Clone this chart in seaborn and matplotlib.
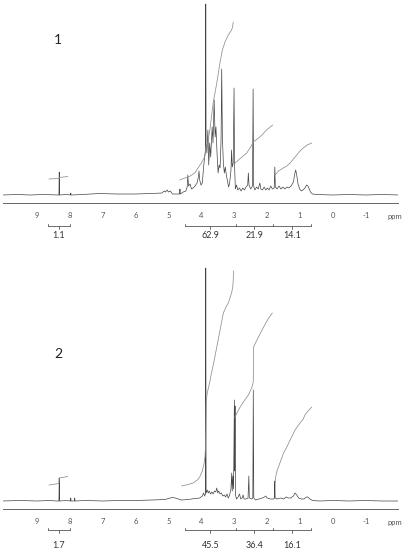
"""
1H NMR spectra of two samples, with integral curves and integration brackets
"""

import pandas as pd
import matplotlib
matplotlib.use('Agg')
import matplotlib.pyplot as plt
import seaborn as sns

# ---- spectrum 1: chemical shift (ppm) / intensity (arbitrary units)
spec1_ppm = [10.05, 9.6, 9.2, 8.8, 8.40, 8.33, 8.32, 8.31, 8.1, 7.98, 7.97, 7.96,
             7.6, 7.1, 6.6, 6.0, 5.5, 5.2, 5.13, 5.09, 5.04, 5.00, 4.94, 4.88,
             4.72, 4.66, 4.65, 4.64, 4.55, 4.47, 4.43, 4.41, 4.39, 4.34, 4.30,
             4.25, 4.19, 4.13, 4.09, 4.07, 4.05, 4.01, 3.97, 3.93, 3.90, 3.875,
             3.865, 3.855, 3.83, 3.80, 3.775, 3.745, 3.715, 3.67, 3.645, 3.61,
             3.58, 3.555, 3.52, 3.49, 3.46, 3.43, 3.40, 3.38, 3.36, 3.33, 3.30,
             3.27, 3.24, 3.21, 3.17, 3.14, 3.10, 3.08, 3.06, 3.03, 3.005, 2.99,
             2.965, 2.93, 2.89, 2.84, 2.79, 2.74, 2.69, 2.64, 2.59, 2.57, 2.55,
             2.50, 2.445, 2.425, 2.41, 2.37, 2.32, 2.27, 2.22, 2.19, 2.14, 2.09,
             2.04, 1.99, 1.94, 1.89, 1.84, 1.785, 1.765, 1.75, 1.70, 1.64, 1.58,
             1.52, 1.46, 1.40, 1.34, 1.27, 1.20, 1.16, 1.13, 1.10, 1.06, 1.01,
             0.96, 0.91, 0.85, 0.80, 0.76, 0.72, 0.68, 0.62, 0.5, 0.0, -0.5,
             -1.0, -1.5, -2.0]
spec1_int = [0, 0.5, 0, 0.5, 0, 0, 23, 0, 0.5, 0, 2, 0,
             0.5, 1.5, 1, 1, 1.5, 2, 4, 3, 5, 3, 4, 1,
             1, 1, 6, 1, 3, 4, 8, 20, 9, 11, 6,
             7, 9, 12, 18, 24, 15, 10, 12, 28, 38, 45,
             191, 50, 42, 65, 30, 52, 38, 68, 52, 95,
             58, 68, 40, 22, 30, 27, 55, 126, 58, 32, 22,
             28, 20, 15, 8, 12, 24, 45, 28, 32, 107, 30,
             6, 10, 5, 7, 4, 7, 5, 8, 10, 22, 10,
             6, 9, 106, 9, 5, 8, 6, 12, 6, 5, 8,
             5, 7, 5, 9, 6, 7, 28, 8, 6, 9, 6,
             8, 6, 8, 7, 9, 13, 21, 25, 20, 11, 6,
             4, 5, 7, 10, 9, 6, 3, 1, 0.5, 0, 0.5,
             0, 0.5, 0]

# ---- spectrum 2
spec2_ppm = [10.05, 9.5, 9.0, 8.6, 8.40, 8.33, 8.32, 8.31, 8.1, 7.98, 7.97, 7.96,
             7.86, 7.85, 7.84, 7.5, 7.0, 6.5, 6.0, 5.5, 5.1, 4.95, 4.85, 4.75,
             4.6, 4.4, 4.2, 4.05, 3.97, 3.93, 3.90, 3.875, 3.865, 3.855, 3.82,
             3.79, 3.76, 3.72, 3.68, 3.64, 3.60, 3.56, 3.53, 3.50, 3.47, 3.43,
             3.39, 3.35, 3.30, 3.26, 3.22, 3.18, 3.14, 3.10, 3.075, 3.06, 3.04,
             3.02, 2.995, 2.985, 2.975, 2.96, 2.93, 2.88, 2.84, 2.80, 2.76, 2.73,
             2.70, 2.64, 2.58, 2.555, 2.54, 2.48, 2.435, 2.42, 2.405, 2.35, 2.25,
             2.15, 2.08, 2.04, 2.00, 1.90, 1.80, 1.775, 1.765, 1.755, 1.70, 1.60,
             1.50, 1.42, 1.36, 1.28, 1.20, 1.15, 1.10, 1.04, 0.96, 0.88, 0.80,
             0.76, 0.70, 0.62, 0.4, 0.0, -0.5, -1.0, -1.5, -2.0]
spec2_int = [0, 0.5, 0, 0.5, 0, 0, 23, 0, 0.5, 0, 3, 0,
             0, 3, 0, 0.5, 0, 0.5, 0.5, 1, 1.5, 3, 3.5, 2.5,
             1, 1.5, 2.5, 3, 5, 8, 5, 7, 233, 8, 11,
             8, 10, 7, 9, 7, 10, 9, 13, 8, 10, 7,
             8, 5, 6, 4, 7, 3, 6, 12, 28, 10, 25,
             12, 101, 30, 95, 6, 2, 4, 7, 2, 3, 6,
             2, 2, 3, 25, 3, 2, 3, 111, 3, 1, 2,
             3, 4, 5, 3, 2, 2, 3, 20, 3, 2, 3,
             2, 4, 3, 3, 5, 8, 6, 3, 2, 2, 4,
             4, 2, 0.5, 0, 0.5, 0, 0.5, 0, 0]

# ---- integral curves, spectrum 1
int1a_ppm = [8.63, 8.33, 8.32, 8.06]
int1a_val = [16, 16.5, 17.5, 18.5]
int1b_ppm = [4.66, 4.50, 4.36, 4.20, 4.10, 4.00, 3.90, 3.82, 3.74, 3.64, 3.53,
             3.43, 3.36, 3.28, 3.18, 3.08, 3.05, 3.03]
int1b_val = [15, 17, 18.5, 22, 27, 32, 38, 50, 65, 92, 112,
             133, 145, 153, 160, 165, 168, 173]
int1c_ppm = [2.97, 2.80, 2.62, 2.50, 2.42, 2.30, 2.22, 2.10, 2.02, 1.83]
int1c_val = [32, 37, 42, 48, 53, 56, 58, 62, 65, 70]
int1d_ppm = [1.76, 1.65, 1.51, 1.40, 1.30, 1.20, 1.10, 1.00, 0.90, 0.78, 0.64]
int1d_val = [20, 24, 27, 29, 32, 36, 40, 44, 47, 50, 52]

# ---- integral curves, spectrum 2
int2a_ppm = [8.63, 8.33, 8.32, 8.06]
int2a_val = [16, 17.5, 23, 24.5]
int2b_ppm = [4.60, 4.40, 4.25, 4.12, 4.05, 3.97, 3.92, 3.89, 3.87, 3.86, 3.85,
             3.82, 3.75, 3.69, 3.60, 3.53, 3.43, 3.33, 3.25, 3.18, 3.08, 3.04,
             3.03, 3.02]
int2b_val = [15, 16.5, 18, 21, 24, 30, 37, 44, 55, 80, 100,
             108, 118, 128, 142, 154, 171, 188, 194, 198, 208, 215,
             221, 230]
int2c_ppm = [2.99, 2.90, 2.82, 2.70, 2.57, 2.47, 2.42, 2.415, 2.41, 2.34, 2.20,
             2.04, 1.95, 1.84]
int2c_val = [83, 89, 94, 100, 106, 113, 119, 140, 154, 159, 168,
             178, 183, 188]
int2d_ppm = [1.76, 1.74, 1.69, 1.60, 1.50, 1.40, 1.30, 1.15, 1.00, 0.90, 0.85,
             0.78, 0.70, 0.64]
int2d_val = [18, 24, 31, 39, 48, 54, 61, 71, 78, 82, 86,
             89, 92, 94]

# ---- integration ranges (ppm) and integral values
small_range = [8.66, 8.00]
main_range = [4.50, 2.95, 1.83, 0.66]
values1 = ['1.1', '62.9', '21.9', '14.1']
values2 = ['1.7', '45.5', '36.4', '16.1']
tick_ppm = [9, 8, 7, 6, 5, 4, 3, 2, 1, 0, -1]
tick_labels = ['9', '8', '7', '6', '5', '4', '3', '2', '1', '0', '-1']

SPEC_COLOR = '#444444'
INT_COLOR = '#8e8e8e'
TEXT_COLOR = '#333333'

sns.set_style('white')
plt.rcParams['font.family'] = ['Lato', 'DejaVu Sans']

W, H = 408, 550
fig = plt.figure(figsize=(W / 100, H / 100), dpi=100)


def add_panel(top_px, bottom_px, ymax):
    ax = fig.add_axes([3 / W, 1 - bottom_px / H, 395 / W, (bottom_px - top_px) / H])
    ax.set_xlim(10.03, -1.98)
    ax.set_ylim(-8, ymax)
    for side in ['top', 'left', 'right']:
        ax.spines[side].set_visible(False)
    ax.spines['bottom'].set_color('#666666')
    ax.spines['bottom'].set_linewidth(0.7)
    ax.set_yticks([])
    ax.set_xticks(tick_ppm)
    ax.set_xticklabels(tick_labels)
    ax.set_xticks([-2 + 0.2 * i for i in range(61)], minor=True)
    ax.tick_params(axis='x', which='major', direction='out', length=3.4, width=0.6,
                   color='#666666', labelsize=5.5, labelcolor='#555555', pad=3.2)
    ax.tick_params(axis='x', which='minor', direction='out', length=2.2, width=0.5,
                   color='#777777')
    ax.set_xlabel('')
    ax.set_ylabel('')
    ax.patch.set_alpha(0)
    return ax


def draw_lines(ax, spec_ppm, spec_int, integrals):
    df = pd.DataFrame({'ppm': spec_ppm, 'intensity': spec_int})
    sns.lineplot(data=df, x='ppm', y='intensity', ax=ax, color=SPEC_COLOR,
                 linewidth=0.5, sort=False, estimator=None)
    for ppm, val in integrals:
        sns.lineplot(x=ppm, y=val, ax=ax, color=INT_COLOR, linewidth=0.55,
                     sort=False, estimator=None)
    ax.set_xlim(10.03, -1.98)
    ax.set_xlabel('')
    ax.set_ylabel('')


def draw_brackets(ax, values, y, y_text):
    kw = dict(color='#555555', linewidth=0.6, clip_on=False)
    for edges, labels in [(small_range, values[:1]), (main_range, values[1:])]:
        ax.plot([edges[0], edges[-1]], [y, y], **kw)
        for e in edges:
            ax.plot([e, e], [y, y + 2.5], **kw)
        for i, lab in enumerate(labels):
            c = (edges[i] + edges[i + 1]) / 2
            ax.plot([c, c], [y, y - 2.5], **kw)
            ax.text(c, y_text, lab, ha='center', va='center', fontsize=6.5,
                    color=TEXT_COLOR, clip_on=False)
    ax.text(-1.87, -21, 'ppm', ha='center', va='center', fontsize=5.5,
            color='#555555', clip_on=False)


# panel 1
ax1 = add_panel(0, 203, 195)
draw_lines(ax1, spec1_ppm, spec1_int,
           [(int1a_ppm, int1a_val), (int1b_ppm, int1b_val),
            (int1c_ppm, int1c_val), (int1d_ppm, int1d_val)])
draw_brackets(ax1, values1, -31, -40)
ax1.text(8.36, 155, '1', ha='center', va='center', fontsize=10, color='#222222')

# panel 2
ax2 = add_panel(262, 509, 239)
draw_lines(ax2, spec2_ppm, spec2_int,
           [(int2a_ppm, int2a_val), (int2b_ppm, int2b_val),
            (int2c_ppm, int2c_val), (int2d_ppm, int2d_val)])
draw_brackets(ax2, values2, -29, -45)
ax2.text(8.36, 147, '2', ha='center', va='center', fontsize=10, color='#222222')

fig.savefig('out.png', dpi=100)
